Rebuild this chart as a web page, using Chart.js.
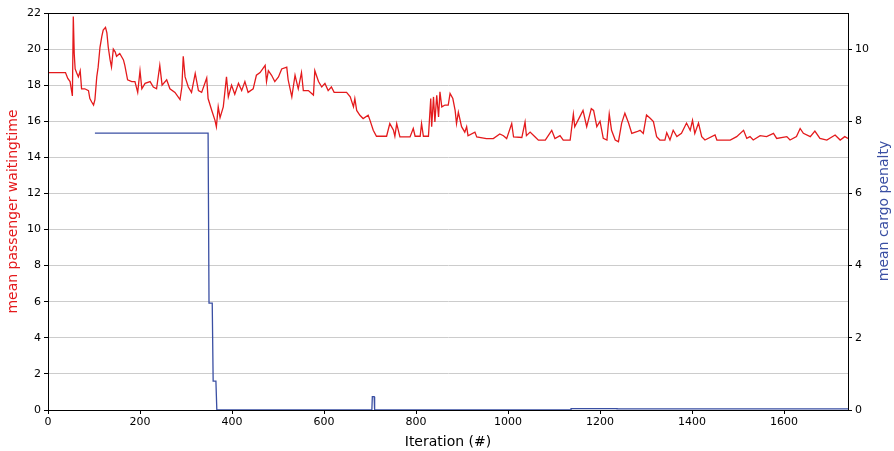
<!DOCTYPE html>
<html>
<head>
<meta charset="utf-8">
<script src="https://cdn.jsdelivr.net/npm/chart.js@4.4.1/dist/chart.umd.min.js"></script>
<style>
  html, body { margin: 0; padding: 0; background: #fff; }
  #wrap { width: 894px; height: 451px; }
</style>
</head>
<body>
<div id="wrap"><canvas id="chart" width="894" height="451"></canvas></div>
<script>
// mean passenger waiting time (left axis)
const waitIter = [
  0, 38, 43, 48, 53, 55, 57, 59, 62, 66, 70, 73, 80, 88, 91, 95, 99, 102, 106, 109,
  113, 117, 120, 125, 128, 131, 135, 138, 142, 146, 149, 156, 164, 167, 173, 182, 189, 195, 200, 204,
  211, 222, 229, 236, 243, 248, 258, 265, 276, 287, 291, 294, 298, 305, 312, 320, 327, 334, 345, 348,
  356, 363, 366, 370, 374, 381, 388, 392, 399, 406, 414, 421, 428, 435, 446, 453, 461, 472, 475, 479,
  486, 493, 501, 508, 519, 522, 530, 537, 544, 551, 555, 566, 577, 580, 588, 595, 602, 609, 616, 622,
  628, 649, 657, 664, 667, 671, 678, 685, 696, 700, 707, 714, 729, 736, 743, 751, 754, 758, 765, 787,
  794, 798, 809, 812, 816, 827, 832, 834, 838, 841, 845, 849, 852, 856, 863, 870, 874, 880, 885, 888,
  892, 899, 906, 910, 913, 928, 932, 953, 968, 982, 990, 997, 1008, 1012, 1030, 1037, 1040, 1048, 1059, 1066,
  1081, 1095, 1102, 1113, 1120, 1135, 1142, 1145, 1152, 1163, 1171, 1181, 1186, 1193, 1200, 1207, 1215, 1220, 1225, 1233,
  1240, 1247, 1254, 1262, 1269, 1280, 1287, 1294, 1301, 1309, 1316, 1323, 1330, 1341, 1345, 1352, 1359, 1367, 1377, 1388,
  1396, 1401, 1406, 1414, 1421, 1428, 1450, 1454, 1483, 1497, 1512, 1519, 1526, 1533, 1548, 1562, 1577, 1584, 1606, 1613,
  1627, 1635, 1642, 1657, 1667, 1678, 1693, 1711, 1722, 1732, 1739
];
const waitValue = [
  18.7, 18.7, 18.37, 18.2, 17.4, 21.8, 19.76, 18.9, 18.7, 18.46, 18.8, 17.8, 17.8, 17.7, 17.26, 17.07, 16.9, 17.2, 18.46, 19.0,
  20.1, 20.7, 21.05, 21.2, 20.9, 20.1, 19.4, 19.0, 20.0, 19.85, 19.6, 19.76, 19.4, 19.1, 18.3, 18.2, 18.2, 17.6, 18.8, 17.8,
  18.1, 18.2, 17.9, 17.8, 19.1, 18.0, 18.3, 17.8, 17.6, 17.2, 17.9, 19.6, 18.46, 17.9, 17.6, 18.65, 17.7, 17.6, 18.4, 17.26,
  16.6, 16.05, 15.7, 16.8, 16.2, 16.8, 18.46, 17.35, 18.0, 17.5, 18.1, 17.7, 18.2, 17.6, 17.8, 18.55, 18.7, 19.1, 18.2, 18.8,
  18.55, 18.2, 18.46, 18.9, 19.0, 18.3, 17.35, 18.55, 17.8, 18.7, 17.7, 17.7, 17.45, 18.8, 18.2, 17.9, 18.1, 17.7, 17.9, 17.6,
  17.6, 17.6, 17.35, 16.8, 17.26, 16.6, 16.33, 16.15, 16.33, 16.05, 15.5, 15.17, 15.17, 15.17, 15.87, 15.5, 15.17, 15.87, 15.13, 15.13,
  15.6, 15.17, 15.17, 15.87, 15.17, 15.17, 17.26, 15.7, 17.35, 15.96, 17.44, 16.24, 17.63, 16.8, 16.9, 16.9, 17.54, 17.26, 16.6, 15.87,
  16.5, 15.7, 15.4, 15.7, 15.2, 15.4, 15.13, 15.04, 15.04, 15.3, 15.2, 15.04, 15.87, 15.13, 15.1, 15.96, 15.2, 15.4, 15.13, 14.95,
  14.95, 15.5, 15.04, 15.2, 14.95, 14.95, 16.4, 15.7, 16.05, 16.6, 15.7, 16.7, 16.6, 15.7, 16.0, 15.05, 14.96, 16.4, 15.5, 14.96,
  14.87, 15.9, 16.45, 15.9, 15.33, 15.42, 15.5, 15.33, 16.35, 16.17, 15.98, 15.15, 14.96, 14.96, 15.37, 14.96, 15.5, 15.15, 15.33, 15.9,
  15.5, 16.05, 15.33, 15.9, 15.15, 14.96, 15.24, 14.96, 14.96, 15.15, 15.5, 15.05, 15.15, 14.96, 15.2, 15.15, 15.33, 15.05, 15.15, 14.96,
  15.15, 15.6, 15.33, 15.15, 15.46, 15.05, 14.96, 15.24, 14.96, 15.15, 15.05
];

// mean cargo penalty (right axis)
const penaltyIter = [102, 348, 350, 357, 359, 365, 367, 704, 705, 709, 710, 1137, 1137, 1237, 1237, 1739];
const penaltyValue = [7.67, 7.67, 2.96, 2.96, 0.8, 0.8, 0, 0, 0.37, 0.37, 0, 0, 0.04, 0.04, 0.03, 0.03];

const xTicks = [0, 200, 400, 600, 800, 1000, 1200, 1400, 1600];
const waitTicks = [0, 2, 4, 6, 8, 10, 12, 14, 16, 18, 20, 22];
const penaltyTicks = [0, 2, 4, 6, 8, 10];

const RED = '#e41a1c';
const BLUE = '#3a4fa3';
const FONT = 'DejaVu Sans';

// black box around the plot area, plus the right axis title read bottom-to-top
const frame = {
  id: 'frame',
  afterDraw(chart) {
    const a = chart.chartArea, ctx = chart.ctx;
    ctx.save();
    ctx.strokeStyle = '#000';
    ctx.lineWidth = 1;
    ctx.strokeRect(Math.round(a.left) + 0.5, Math.round(a.top) + 0.5,
      Math.round(a.right - a.left), Math.round(a.bottom - a.top));
    ctx.translate(884, 211);
    ctx.rotate(-Math.PI / 2);
    ctx.fillStyle = BLUE;
    ctx.font = '14px "' + FONT + '"';
    ctx.textAlign = 'center';
    ctx.textBaseline = 'middle';
    ctx.fillText('mean cargo penalty', 0, 0);
    ctx.restore();
  }
};

new Chart(document.getElementById('chart'), {
  type: 'line',
  data: {
    datasets: [
      {
        label: 'mean passenger waitingtime',
        data: waitIter.map((x, i) => ({ x: x, y: waitValue[i] })),
        borderColor: RED,
        borderWidth: 1.3,
        pointRadius: 0,
        tension: 0,
        yAxisID: 'y'
      },
      {
        label: 'mean cargo penalty',
        data: penaltyIter.map((x, i) => ({ x: x, y: penaltyValue[i] })),
        borderColor: BLUE,
        borderWidth: 1.3,
        pointRadius: 0,
        tension: 0,
        yAxisID: 'y1'
      }
    ]
  },
  options: {
    responsive: false,
    animation: false,
    layout: { padding: { top: 13, left: 0, right: 0, bottom: 0 } },
    plugins: { legend: { display: false }, tooltip: { enabled: false } },
    scales: {
      x: {
        type: 'linear',
        min: 0,
        max: 1739,
        afterBuildTicks: s => { s.ticks = xTicks.map(v => ({ value: v })); },
        afterFit: s => { s.height = 41; },
        grid: { drawOnChartArea: false, tickLength: 4, color: '#000' },
        border: { color: '#000' },
        ticks: { color: '#000', font: { family: FONT, size: 11 }, padding: 2, maxRotation: 0, callback: v => String(v) },
        title: { display: true, text: 'Iteration (#)', color: '#000', font: { family: FONT, size: 14 }, padding: { top: 0, bottom: 0 } }
      },
      y: {
        position: 'left',
        min: 0,
        max: 22,
        afterBuildTicks: s => { s.ticks = waitTicks.map(v => ({ value: v })); },
        afterFit: s => { s.width = 48; },
        grid: { color: '#cccccc', tickColor: '#000', tickLength: 4, lineWidth: 1 },
        border: { color: '#000' },
        ticks: { color: '#000', font: { family: FONT, size: 11 }, padding: 3 },
        title: { display: true, text: 'mean passenger waitingtime', color: RED, font: { family: FONT, size: 14 }, padding: { top: 5, bottom: 2 } }
      },
      y1: {
        position: 'right',
        min: 0,
        max: 11,
        afterBuildTicks: s => { s.ticks = penaltyTicks.map(v => ({ value: v })); },
        afterFit: s => { s.width = 46; },
        grid: { drawOnChartArea: false, tickColor: '#000', tickLength: 4 },
        border: { color: '#000' },
        ticks: { color: '#000', font: { family: FONT, size: 11 }, padding: 3 }
      }
    }
  },
  plugins: [frame]
});
</script>
</body>
</html>
